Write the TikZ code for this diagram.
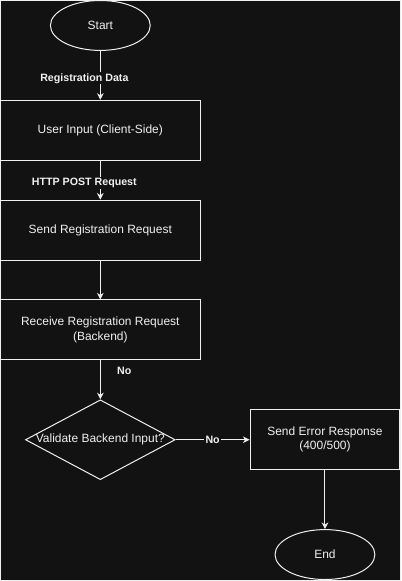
\documentclass[tikz,border=0pt]{standalone}
\usepackage{fontspec}
\setmainfont{Liberation Sans}
\usetikzlibrary{arrows.meta, shapes.geometric}

\definecolor{bgdark}{HTML}{121212}
\definecolor{inkwhite}{HTML}{F0F0F0}

\begin{document}
\begin{tikzpicture}[
    x=0.75pt, y=-0.75pt,
    >={Stealth[length=5pt,width=5pt,inset=1.6pt]},
    every path/.style={draw=inkwhite, line width=0.75pt},
    txt/.style={text=inkwhite, font=\fontsize{9}{10.6}\selectfont, align=center},
    procbox/.style={txt, rectangle, draw=inkwhite, minimum width=150pt, minimum height=45pt, inner sep=0pt},
    termnode/.style={txt, ellipse, draw=inkwhite, minimum width=75pt, minimum height=37.5pt, inner sep=0pt},
    decide/.style={diamond, draw=inkwhite, minimum width=112.5pt, minimum height=60pt, inner sep=0pt, aspect=1.875},
    elab/.style={text=inkwhite, fill=bgdark, inner sep=0.8pt, font=\bfseries\fontsize{8}{9.6}\selectfont},
  ]
  \fill[bgdark] (0,0) rectangle (401,581);
  \useasboundingbox (0,0) rectangle (401,581);

  %% ---- client side ---------------------------------------------------
  \node[termnode] (start) at (100,25) {Start};
  \node[procbox]  (input) at (100,130) {User Input (Client-Side)};
  \node[procbox]  (send)  at (100,230) {Send Registration Request};

  %% ---- backend -------------------------------------------------------
  \node[procbox]  (recv)  at (100,330) {Receive Registration Request\\(Backend)};
  \node[decide, label={[txt]center:Validate Backend Input?}] (valid) at (100,440) {};
  \node[procbox, minimum width=112.5pt] (err) at (325,440) {Send Error Response\\(400/500)};
  \node[termnode] (stop) at (325,555) {End};

  \draw[->] (start) -- node[elab, pos=0.56, xshift=-12pt] {Registration Data} (input);
  \draw[->] (input) -- node[elab, pos=0.575, xshift=-12pt] {HTTP POST Request} (send);
  \draw[->] (send) -- (recv);
  \draw[->] (recv) -- node[elab, pos=0.27, xshift=18pt] {No} (valid);
  \draw[->] (valid) -- node[elab] {No} (err);
  \draw[->] (err) -- (stop);
\end{tikzpicture}
\end{document}
